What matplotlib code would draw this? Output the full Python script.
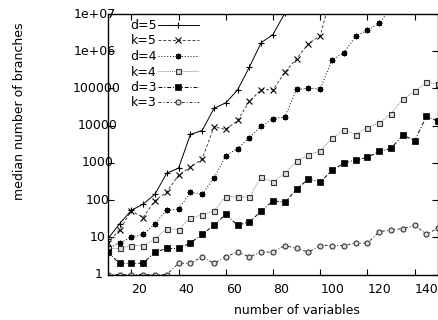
import matplotlib
matplotlib.use("Agg")
import matplotlib.pyplot as plt
from matplotlib.transforms import ScaledTranslation, blended_transform_factory

plt.rcParams['font.family'] = ['DejaVu Sans']
plt.rcParams['font.size'] = 9

# number of variables (x) and median number of branches per series
x_d5 = [10, 15, 20, 25, 30, 35, 40, 45, 50, 55, 60, 65, 70, 75, 80, 85]
d5 = [9, 23, 53, 78, 143, 530, 720, 5800, 7400, 29000, 41000, 91000, 375000, 1.7e6, 2.8e6, 1.05e7]

x_k5 = [10, 15, 20, 25, 30, 35, 40, 45, 50, 55, 60, 65, 70, 75, 80, 85, 90, 95, 100, 105]
k5 = [7, 16, 51, 34, 97, 165, 465, 766, 1270, 9300, 7900, 13800, 45000, 93000, 92000,
      270000, 635000, 1.6e6, 2.6e6, 3.9e7]

x_d4 = [10, 15, 20, 25, 30, 35, 40, 45, 50, 55, 60, 65, 70, 75, 80, 85, 90, 95, 100, 105,
        110, 115, 120, 125, 130]
d4 = [5, 7, 10, 12, 23, 54, 57, 160, 145, 388, 1560, 2400, 4800, 9500, 15400, 17000,
      95000, 100000, 97000, 590000, 910000, 2.5e6, 3.7e6, 5.6e6, 1.5e7]

x_all = [10, 15, 20, 25, 30, 35, 40, 45, 50, 55, 60, 65, 70, 75, 80, 85, 90, 95, 100, 105,
         110, 115, 120, 125, 130, 135, 140, 145, 150]
k4 = [5, 5, 6, 6, 9, 17, 16, 33, 40, 51, 124, 122, 120, 420, 302, 530, 1130, 1640, 2100, 4600,
      7700, 5700, 8900, 11700, 21000, 52000, 83000, 145000, 135000]
d3 = [4, 2, 2, 2, 4, 5, 5, 7, 12, 21, 42, 21, 26, 50, 96, 87, 196, 371, 305, 630,
      980, 1200, 1400, 2050, 2450, 5600, 3950, 18000, 13000]
k3 = [1, 1, 1, 1, 1, 1, 2, 2, 3, 2, 3, 4, 3, 4, 4, 6, 5, 4, 6, 6,
      6, 7, 7, 14, 16, 17, 21, 12, 18]

xticks = [20, 40, 60, 80, 100, 120, 140]
yticks = [1, 10, 100, 1000, 10000, 100000, 1e6, 1e7]
ytick_labels = ["1", "10", "100", "1000", "10000", "100000", "1e+06", "1e+07"]
ylabel_left_px = [95, 90, 86, 81.7, 77.3, 72.7, 73.3, 73.3]   # gnuplot-ish label placement

W, H = 439, 320
fig = plt.figure(figsize=(W / 100, H / 100), dpi=100)
ax = fig.add_axes([107.7 / W, 1 - 274.5 / H, (438.3 - 107.7) / W, (274.5 - 14) / H])

lw = 0.7
ax.plot(x_d5, d5, color='black', lw=lw, ls='-', marker='+', ms=5, mew=0.8, label='d=5')
ax.plot(x_k5, k5, color='#444444', lw=lw, ls=(0, (3, 2)), marker='x', ms=4, mew=0.8,
        mec='black', label='k=5')
ax.plot(x_d4, d4, color='black', lw=lw, ls=(0, (1, 2)), marker=(8, 2, 0), ms=4, mew=0.9,
        label='d=4')
ax.plot(x_all, k4, color='#888888', lw=lw, ls=(0, (1, 1)), marker='s', ms=3.6, mew=0.8,
        mfc='#dddddd', mec='#333333', label='k=4')
ax.plot(x_all, d3, color='black', lw=lw, ls=(0, (4, 2, 1, 2)), marker='s', ms=4, mew=0.5,
        mfc='black', mec='black', label='d=3')
ax.plot(x_all, k3, color='#333333', lw=lw, ls=(0, (3, 2, 1, 2)), marker='o', ms=3.6, mew=0.8,
        mfc='#dddddd', mec='#333333', label='k=3')

ax.set_yscale('log')
ax.set_xlim(10, 150)
ax.set_ylim(1, 1e7)

for s in ax.spines.values():
    s.set_linewidth(1.0)

ax.set_xticks(xticks)
ax.set_xticklabels([str(v) for v in xticks], ha='left')
off = ScaledTranslation(-2 / 100, 0, fig.dpi_scale_trans)
for lab in ax.get_xticklabels():
    lab.set_transform(lab.get_transform() + off)
ax.tick_params(axis='x', direction='in', top=True, length=4, width=0.8, pad=6, labelsize=9)

ax.set_yticks(yticks)
ax.yaxis.set_minor_locator(matplotlib.ticker.NullLocator())
ax.set_yticklabels([])
ax.tick_params(axis='y', direction='in', right=True, length=4, width=0.8)
tr = blended_transform_factory(fig.transFigure, ax.transData)
for v, t, xl in zip(yticks, ytick_labels, ylabel_left_px):
    ax.text(xl / W, v, t, transform=tr, ha='left', va='center', fontsize=9, clip_on=False)

fig.text(296.7 / W, 1 - 311 / H, 'number of variables', ha='center', va='center', fontsize=9)
fig.text(19.5 / W, 1 - 111 / H, 'median number of branches', ha='center', va='center',
         rotation=90, fontsize=9)

ax.legend(loc='upper left', bbox_to_anchor=(130 / W, 1 - 19 / H), bbox_transform=fig.transFigure,
          frameon=False, markerfirst=False, numpoints=1, handlelength=3.3, handletextpad=0.1,
          labelspacing=0.2, borderpad=0, borderaxespad=0, fontsize=9)

fig.savefig('out.png', dpi=100)
